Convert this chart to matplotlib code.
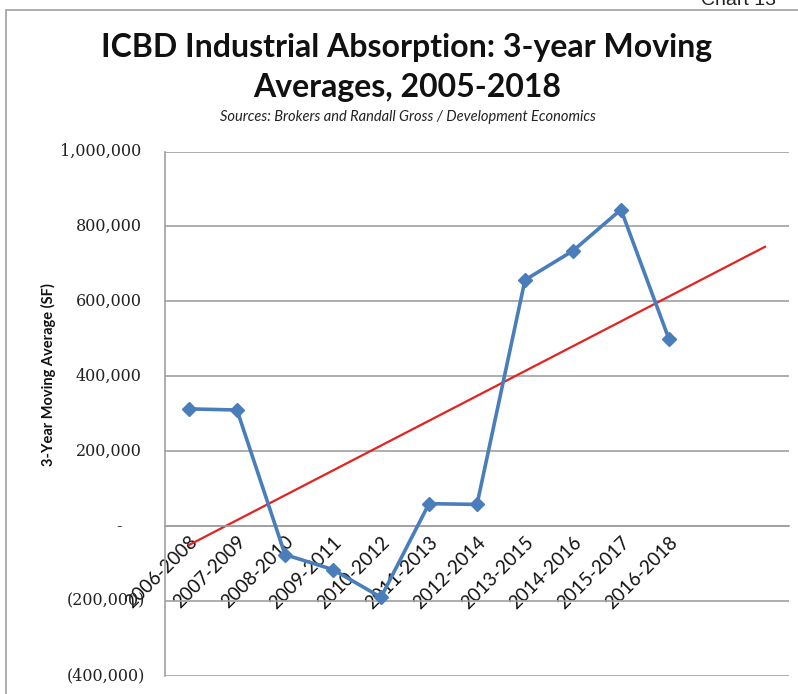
import numpy as np
import matplotlib.pyplot as plt
from matplotlib.patches import Rectangle

# 3-year moving averages of industrial absorption (SF)
periods = ['2006-2008', '2007-2009', '2008-2010', '2009-2011', '2010-2012',
           '2011-2013', '2012-2014', '2013-2015', '2014-2016', '2015-2017',
           '2016-2018']
absorption = [313000, 310000, -76000, -116000, -190000,
              60000, 58000, 657000, 735000, 845000, 499000]
y_ticks = [-400000, -200000, 0, 200000, 400000, 600000, 800000, 1000000]
forecast_ahead = 2   # linear trendline extended two periods forward

W, H = 798, 694
fig = plt.figure(figsize=(W / 100, H / 100), dpi=100)
fig.patch.set_facecolor('white')

# chart frame
fig.add_artist(Rectangle((6 / W, -0.1), 1.2, 1 - 9.5 / H + 0.1,
                         transform=fig.transFigure, fill=False,
                         edgecolor='#a8a8a8', lw=1.3))
fig.text(776 / W, 1 - 5 / H, 'Chart 13', ha='right', va='baseline',
         fontsize=14, family='Liberation Sans', color='#222222')

ax = fig.add_axes([165 / W, 1 - 676 / H, 624 / W, (676 - 151.5) / H])

x = np.arange(len(periods))
ax.plot(x, absorption, color='#4a7ebb', lw=2.6, marker='D', markersize=7.5,
        zorder=3)

# linear trend
slope, intercept = np.polyfit(x, absorption, 1)
xt = np.array([0, len(periods) - 1 + forecast_ahead])
ax.plot(xt, slope * xt + intercept, color='#e3231f', lw=1.6, zorder=2)

ax.set_xlim(-0.5, len(periods) + forecast_ahead - 0.5)
ax.set_ylim(-400000, 1000000)
ax.set_yticks(y_ticks)
ax.yaxis.grid(True, color='#a0a0a0', lw=1.2)
ax.set_axisbelow(True)
ax.tick_params(axis='both', length=0)

for s in ['top', 'right']:
    ax.spines[s].set_visible(False)
ax.spines['left'].set_color('#a0a0a0')
ax.spines['left'].set_linewidth(1.2)
ax.spines['bottom'].set_position(('data', 0))
ax.spines['bottom'].set_color('#a0a0a0')
ax.spines['bottom'].set_linewidth(1.2)

ax.set_xticks(x)
ax.set_xticklabels(periods, rotation=45, ha='right', va='top',
                   rotation_mode='anchor', fontsize=13.5, family='Lato',
                   color='#111111')
ax.tick_params(axis='x', pad=5)

# accounting-style value labels
ax.set_yticklabels([])
for v in y_ticks:
    if v > 0:
        txt, off = f'{v:,}', 17
    elif v < 0:
        txt, off = f'({-v:,})', 14
    else:
        txt, off = '-', 31
    ax.annotate(txt, xy=(0, v), xycoords=('axes fraction', 'data'),
                xytext=(-off, 0), textcoords='offset points',
                ha='right', va='center', fontsize=11.5,
                family='DejaVu Serif', color='#222222')

fig.text(48 / W, 1 - 375 / H, '3-Year Moving Average (SF)', rotation=90,
         ha='center', va='center', fontsize=10.5, family='Lato',
         weight='bold', color='#111111')

fig.text(407 / W, 1 - 48 / H, 'ICBD Industrial Absorption: 3-year Moving',
         ha='center', va='center', fontsize=23, family='Lato',
         weight='bold', color='#111111')
fig.text(407 / W, 1 - 88 / H, 'Averages, 2005-2018',
         ha='center', va='center', fontsize=23, family='Lato',
         weight='bold', color='#111111')
fig.text(408 / W, 1 - 117 / H,
         'Sources: Brokers and Randall Gross / Development Economics',
         ha='center', va='center', fontsize=10.5, family='Lato',
         style='italic', color='#222222')

fig.savefig('out.png', dpi=100)
